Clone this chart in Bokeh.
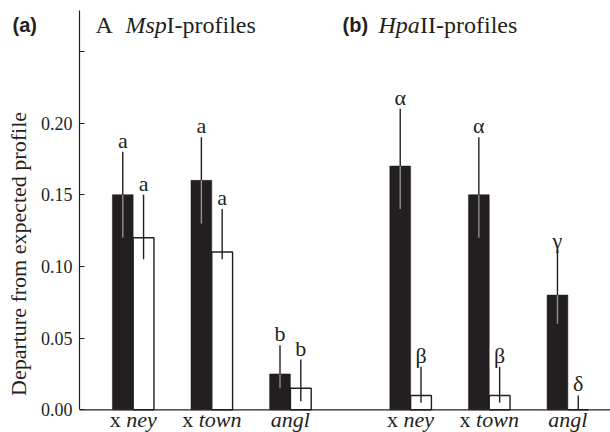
import numpy as np
from bokeh.plotting import figure
from bokeh.layouts import row
from bokeh.models import Range1d, Span, Label, FixedTicker, ColumnDataSource, PrintfTickFormatter
from bokeh.embed import file_html
from bokeh.resources import INLINE
from bokeh.core.properties import value

# ---------------- data ----------------
panels = ["MspI", "HpaII"]
strain_prefix = ["x", "x", ""]
strain_names = ["ney", "town", "angl"]
treatments = ["filled", "open"]

msp_filled = [0.150, 0.160, 0.025]
msp_filled_lo = [0.120, 0.130, 0.015]
msp_filled_hi = [0.180, 0.190, 0.045]
msp_open = [0.120, 0.110, 0.015]
msp_open_lo = [0.105, 0.105, 0.006]
msp_open_hi = [0.150, 0.140, 0.035]

hpa_filled = [0.170, 0.150, 0.080]
hpa_filled_lo = [0.140, 0.120, 0.060]
hpa_filled_hi = [0.210, 0.190, 0.110]
hpa_open = [0.010, 0.010, 0.000]
hpa_open_lo = [0.005, 0.005, 0.000]
hpa_open_hi = [0.030, 0.030, 0.010]

msp_filled_sig = ["a", "a", "b"]
msp_open_sig = ["a", "a", "b"]
hpa_filled_sig = ["α", "α", "γ"]
hpa_open_sig = ["β", "β", "δ"]

y_ticks = [0.0, 0.05, 0.10, 0.15, 0.20, 0.25]
y_tick_labels = ["0.00", "0.05", "0.10", "0.15", "0.20", ""]

# ---------------- styling ----------------
BLACK = "#231f20"
GREY = "#8f8f8f"
SERIF = "Liberation Serif"
SANS = "Liberation Sans"

series = {
    "MspI": {"filled": (msp_filled, msp_filled_lo, msp_filled_hi, msp_filled_sig),
             "open": (msp_open, msp_open_lo, msp_open_hi, msp_open_sig)},
    "HpaII": {"filled": (hpa_filled, hpa_filled_lo, hpa_filled_hi, hpa_filled_sig),
              "open": (hpa_open, hpa_open_lo, hpa_open_hi, hpa_open_sig)},
}

# categorical layout (bar = 1 unit)
SUB_GAP = 1.78
GRP_GAP = 3.78
bar_x = {}
group_c = {}
cursor = 0.0
for pi, panel in enumerate(panels):
    if pi > 0:
        cursor += GRP_GAP
    for gi in range(len(strain_names)):
        if gi > 0:
            cursor += SUB_GAP
        group_c[(panel, gi)] = cursor + 1.0
        for t in treatments:
            bar_x[(panel, gi, t)] = cursor + 0.5
            cursor += 1.0
total = cursor


def collect(t):
    d = dict(x=[], top=[], lo=[], hi=[], sig=[])
    for panel in panels:
        vals, lo, hi, sig = series[panel][t]
        for gi in range(len(strain_names)):
            d["x"].append(bar_x[(panel, gi, t)])
            d["top"].append(vals[gi])
            d["lo"].append(lo[gi])
            d["hi"].append(hi[gi])
            d["sig"].append(sig[gi])
    return ColumnDataSource(d)


src_f = collect("filled")
src_o = collect("open")

H = 432
LEFT_W = 37
W = 610 - LEFT_W
BORDER_LEFT = 40       # frame left edge at 77 px on the page
BASE_Y = 409.3         # baseline (y = 0) in px from top
PX_PER_UNIT = 1434.0

p = figure(width=W, height=H, output_backend="svg", toolbar_location=None,
           x_range=Range1d(-1.58, total + 1.05),
           y_range=Range1d(-(H - BASE_Y) / PX_PER_UNIT, BASE_Y / PX_PER_UNIT),
           x_axis_location=None, y_axis_location="left",
           min_border_left=BORDER_LEFT, min_border_right=0,
           min_border_top=0, min_border_bottom=0)
p.outline_line_color = None
p.grid.visible = False
p.background_fill_color = "white"
p.border_fill_color = "white"

ax = p.yaxis[0]
ax.ticker = FixedTicker(ticks=y_ticks)
ax.formatter = PrintfTickFormatter(format="%.2f")
ax.major_label_overrides = {t: l for t, l in zip(y_ticks, y_tick_labels)}
ax.bounds = (0, 0.2785)
ax.axis_line_color = BLACK
ax.axis_line_width = 1.2
ax.major_tick_in = 5
ax.major_tick_out = 0
ax.major_tick_line_color = BLACK
ax.major_tick_line_width = 1.2
ax.minor_tick_line_color = None
ax.major_label_text_font = SERIF
ax.major_label_text_font_size = "18px"
ax.major_label_text_color = BLACK
ax.major_label_standoff = 7

# bars
p.vbar(x="x", top="top", bottom=0, width=1.0, source=src_f,
       fill_color=BLACK, line_color=BLACK, line_width=0.5)
p.vbar(x="x", top="top", bottom=0, width=1.0, source=src_o,
       fill_color="white", line_color=BLACK, line_width=1.4)

# error bars
p.segment(x0="x", y0="lo", x1="x", y1="hi", source=src_f, line_color=BLACK, line_width=1.4)
p.segment(x0="x", y0="lo", x1="x", y1="top", source=src_f, line_color=GREY, line_width=1.4)
p.segment(x0="x", y0="lo", x1="x", y1="hi", source=src_o, line_color=BLACK, line_width=1.4)

# baseline
p.add_layout(Span(location=0, dimension="width", line_color=BLACK, line_width=1.2))

# significance letters (centred vertically, ~4 px gap above whisker)
for s in (src_f, src_o):
    p.text(x="x", y="hi", text="sig", source=s, text_font=value(SERIF),
           text_font_size="22px", text_align="center", text_baseline="middle",
           y_offset=-11.5, text_color=BLACK)

# x category labels
FS_X = 22
ITALIC_W = {"a": 0.5, "e": 0.444, "g": 0.5, "l": 0.278, "n": 0.5, "o": 0.5,
            "t": 0.278, "w": 0.667, "y": 0.444}
lab = dict(c=[], pre=[], name=[], pre_off=[], name_off=[])
for panel in panels:
    for gi, name in enumerate(strain_names):
        pre = strain_prefix[gi]
        w_name = sum(ITALIC_W.get(ch, 0.5) for ch in name) * FS_X
        w_pre = 0.75 * FS_X if pre else 0.0
        left = -(w_pre + w_name) / 2
        lab["c"].append(group_c[(panel, gi)])
        lab["pre"].append(pre)
        lab["name"].append(name)
        lab["pre_off"].append(left)
        lab["name_off"].append(left + w_pre)
src_l = ColumnDataSource(lab)
p.text(x="c", y=0, text="pre", x_offset="pre_off", y_offset=10, source=src_l,
       text_font=value(SERIF), text_font_size=f"{FS_X}px", text_align="left",
       text_baseline="middle", text_color=BLACK)
p.text(x="c", y=0, text="name", x_offset="name_off", y_offset=10, source=src_l,
       text_font=value(SERIF), text_font_size=f"{FS_X}px", text_font_style="italic",
       text_align="left", text_baseline="middle", text_color=BLACK)


def lbl(fig, text, x, y, font=SERIF, size="24px", style="normal", angle=0.0, align="left"):
    fig.add_layout(Label(x=x, y=y, x_units="screen", y_units="screen", text=text,
                         text_font=font, text_font_size=size, text_font_style=style,
                         text_color=BLACK, text_align=align, text_baseline="middle",
                         angle=angle))


# panel titles (frame-relative screen coords: x from frame left, y up from bottom)
lbl(p, "A", 16, 408)
lbl(p, "Msp", 46, 408, style="italic")
lbl(p, "I-profiles", 87, 408)
lbl(p, "(b)", 263, 408, font=SANS, size="20px", style="bold")
lbl(p, "Hpa", 299, 408, style="italic")
lbl(p, "II-profiles", 340.5, 408)

# left strip: panel tag and y-axis title
side = figure(width=LEFT_W, height=H, output_backend="svg", toolbar_location=None,
              x_range=Range1d(0, 1), y_range=Range1d(0, 1),
              x_axis_location=None, y_axis_location=None,
              min_border_left=0, min_border_right=0, min_border_top=0, min_border_bottom=0)
side.outline_line_color = None
side.grid.visible = False
side.border_fill_color = "white"
lbl(side, "(a)", 12, 408, font=SANS, size="20px", style="bold")
lbl(side, "Departure from expected profile", 18, 178.5, size="22px", angle=np.pi / 2, align="center")

layout = row(side, p, spacing=0)
open("out.html", "w").write(file_html(layout, INLINE))
